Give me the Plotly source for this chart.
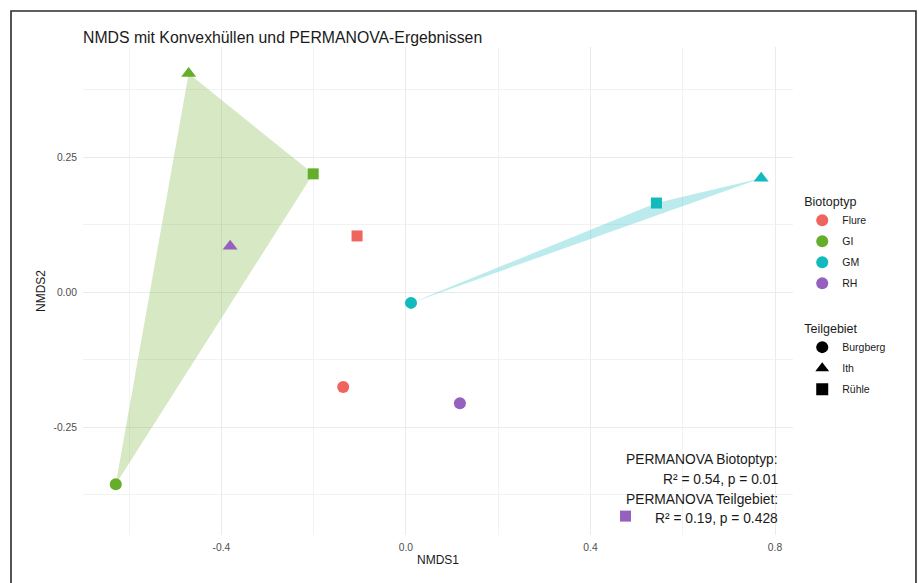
import plotly.graph_objects as go

# NMDS site scores
biotoptyp = ["Flure", "Flure", "GI", "GI", "GI", "GM", "GM", "GM", "RH", "RH", "RH"]
teilgebiet = ["Burgberg", "Rühle", "Burgberg", "Ith", "Rühle",
              "Burgberg", "Ith", "Rühle", "Burgberg", "Ith", "Rühle"]
nmds1 = [-0.136, -0.106, -0.629, -0.471, -0.201, 0.011, 0.770, 0.543, 0.117, -0.381, 0.476]
nmds2 = [-0.176, 0.104, -0.356, 0.405, 0.219, -0.020, 0.211, 0.165, -0.206, 0.085, -0.415]

biotop_levels = ["Flure", "GI", "GM", "RH"]
teil_levels = ["Burgberg", "Ith", "Rühle"]

x_ticks = [-0.4, 0.0, 0.4, 0.8]
x_ticklabels = ["-0.4", "0.0", "0.4", "0.8"]
y_ticks = [-0.25, 0.0, 0.25]
y_ticklabels = ["-0.25", "0.00", "0.25"]

permanova_lines = [
    "PERMANOVA Biotoptyp:",
    "R² = 0.54, p = 0.01",
    "PERMANOVA Teilgebiet:",
    "R² = 0.19, p = 0.428",
]

colors = {"Flure": "#EF645D", "GI": "#64AE2C", "GM": "#12B9BD", "RH": "#9560BE"}
fills = {"Flure": "rgba(238,107,100,0.3)", "GI": "rgba(124,180,58,0.3)",
         "GM": "rgba(29,189,192,0.3)", "RH": "rgba(155,103,192,0.3)"}
symbols = {"Burgberg": "circle", "Ith": "triangle-up", "Rühle": "square"}
sizes = {"Burgberg": 12, "Ith": 13, "Rühle": 11}

FONT = "Liberation Sans, Arial, sans-serif"


def convex_hull(points):
    pts = sorted(set(points))
    if len(pts) < 3:
        return pts

    def cross(o, a, b):
        return (a[0] - o[0]) * (b[1] - o[1]) - (a[1] - o[1]) * (b[0] - o[0])

    lower, upper = [], []
    for p in pts:
        while len(lower) >= 2 and cross(lower[-2], lower[-1], p) <= 0:
            lower.pop()
        lower.append(p)
    for p in reversed(pts):
        while len(upper) >= 2 and cross(upper[-2], upper[-1], p) <= 0:
            upper.pop()
        upper.append(p)
    return lower[:-1] + upper[:-1]


fig = go.Figure()

# convex hulls per Biotoptyp (degenerate, near-collinear hulls are skipped)
for b in biotop_levels:
    pts = [(x, y) for x, y, g in zip(nmds1, nmds2, biotoptyp) if g == b]
    if len(pts) < 3:
        continue
    hull = convex_hull(pts)
    area = 0.5 * abs(sum(hull[i][0] * hull[(i + 1) % len(hull)][1]
                         - hull[(i + 1) % len(hull)][0] * hull[i][1]
                         for i in range(len(hull))))
    if area < 1e-3:
        continue
    hx = [p[0] for p in hull] + [hull[0][0]]
    hy = [p[1] for p in hull] + [hull[0][1]]
    fig.add_trace(go.Scatter(x=hx, y=hy, mode="lines", fill="toself",
                             fillcolor=fills[b], line=dict(width=0),
                             hoverinfo="skip", showlegend=False))

# site points
for b in biotop_levels:
    idx = [i for i, g in enumerate(biotoptyp) if g == b]
    fig.add_trace(go.Scatter(
        x=[nmds1[i] for i in idx], y=[nmds2[i] for i in idx], mode="markers",
        marker=dict(color=colors[b], opacity=1,
                    symbol=[symbols[teilgebiet[i]] for i in idx],
                    size=[sizes[teilgebiet[i]] for i in idx], line=dict(width=0)),
        name=b, showlegend=False))

# legend entries: Biotoptyp
for b in biotop_levels:
    fig.add_trace(go.Scatter(x=[None], y=[None], mode="markers", name=b,
                             legendgroup=b,
                             marker=dict(color=colors[b], symbol="circle", size=12),
                             legend="legend"))
# legend entries: Teilgebiet
for t in teil_levels:
    fig.add_trace(go.Scatter(x=[None], y=[None], mode="markers", name=t,
                             legendgroup=t,
                             marker=dict(color="black", symbol=symbols[t], size=12),
                             legend="legend2"))

ann_y = [0.154, 0.113, 0.072, 0.033]
for txt, yy in zip(permanova_lines, ann_y):
    fig.add_annotation(text=txt, xref="paper", yref="paper", x=0.982, y=yy,
                       xanchor="right", yanchor="middle", showarrow=False,
                       font=dict(size=13.8, color="#1a1a1a", family=FONT))

# outer frame
fig.add_shape(type="rect", xref="paper", yref="paper",
              x0=-0.1014, x1=1.1732, y0=-0.12, y1=1.0738,
              line=dict(color="#2b2b2b", width=1.6), fillcolor="rgba(0,0,0,0)")

grid = "#EBEBEB"
fig.update_layout(
    width=919, height=583,
    margin=dict(l=83, r=126, t=47, b=48),
    paper_bgcolor="white", plot_bgcolor="white",
    font=dict(family=FONT, color="#1a1a1a"),
    title=dict(text="NMDS mit Konvexhüllen und PERMANOVA-Ergebnissen",
               x=83 / 919, xanchor="left", y=1 - 37 / 583, yanchor="middle",
               font=dict(size=15.8, color="#1a1a1a", family=FONT)),
    xaxis=dict(range=[-0.70, 0.839], tickvals=x_ticks, ticktext=x_ticklabels,
               showgrid=True, gridcolor=grid, gridwidth=1, zeroline=False,
               showline=False, ticks="outside", ticklen=3, tickcolor="rgba(0,0,0,0)",
               tickfont=dict(size=10.3, color="#4d4d4d"),
               minor=dict(tickvals=[-0.6, -0.2, 0.2, 0.6], showgrid=True,
                          gridcolor="#F2F2F2", gridwidth=1, ticks=""),
               title=dict(text="NMDS1", font=dict(size=12, color="#1a1a1a"), standoff=3)),
    yaxis=dict(range=[-0.45, 0.454], tickvals=y_ticks, ticktext=y_ticklabels,
               showgrid=True, gridcolor=grid, gridwidth=1, zeroline=False,
               showline=False, ticks="outside", ticklen=3, tickcolor="rgba(0,0,0,0)",
               tickfont=dict(size=10.3, color="#4d4d4d"),
               minor=dict(tickvals=[-0.375, -0.125, 0.125, 0.375], showgrid=True,
                          gridcolor="#F2F2F2", gridwidth=1, ticks=""),
               title=dict(text="NMDS2", font=dict(size=12, color="#1a1a1a"), standoff=5)),
    legend=dict(title=dict(text="Biotoptyp", font=dict(size=12.5)),
                x=1.013, y=0.708, xanchor="left", yanchor="top", tracegroupgap=2,
                font=dict(size=10.5), bgcolor="rgba(0,0,0,0)", itemclick=False),
    legend2=dict(title=dict(text="Teilgebiet", font=dict(size=12.5)),
                 x=1.013, y=0.448, xanchor="left", yanchor="top", tracegroupgap=2,
                 font=dict(size=10.5), bgcolor="rgba(0,0,0,0)", itemclick=False),
)

fig.write_html("out.html")
